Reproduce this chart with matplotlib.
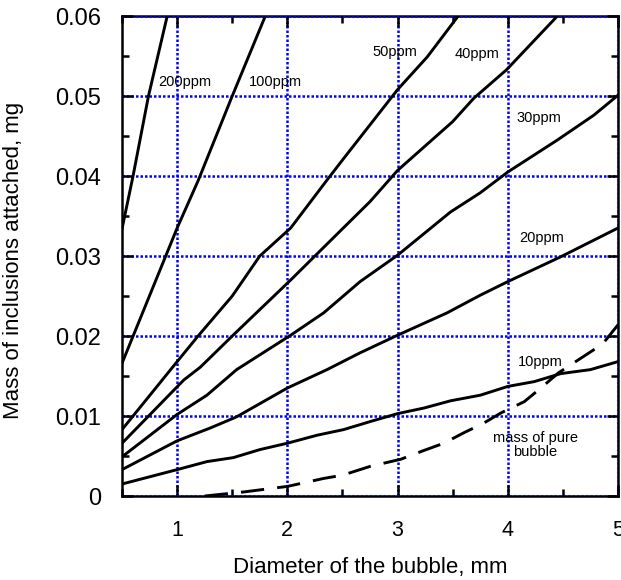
import matplotlib
matplotlib.use('Agg')
import matplotlib.pyplot as plt
from matplotlib.ticker import MultipleLocator

# ------------------------------------------------------------------
# data
# ------------------------------------------------------------------
x_200 = [0.5, 0.6, 0.74, 0.91, 0.95]
y_200 = [0.0334, 0.040, 0.050, 0.060, 0.063]

x_100 = [0.5, 1.0, 1.19, 1.5, 1.8]
y_100 = [0.0166, 0.0335, 0.0394, 0.050, 0.060]

x_50 = [0.5, 1.0, 1.19, 1.5, 1.75, 2.03, 2.36, 2.5, 2.75, 3.0, 3.27, 3.55]
y_50 = [0.0083, 0.0168, 0.020, 0.025, 0.030, 0.0335, 0.0395, 0.042, 0.0464, 0.0508, 0.0549, 0.060]

x_40 = [0.5, 1.06, 1.21, 1.5, 2.03, 2.25, 2.75, 3.0, 3.5, 3.69, 3.99, 4.45]
y_40 = [0.0066, 0.0145, 0.0161, 0.020, 0.027, 0.030, 0.0368, 0.0407, 0.0468, 0.0497, 0.0533, 0.060]

x_30 = [0.5, 1.0, 1.27, 1.54, 2.03, 2.33, 2.66, 3.0, 3.48, 3.75, 4.0, 4.45, 4.78, 5.0]
y_30 = [0.0049, 0.0102, 0.0126, 0.0158, 0.0201, 0.0229, 0.0268, 0.0301, 0.0355, 0.0379, 0.0405, 0.0445, 0.0476, 0.0501]

x_20 = [0.5, 1.0, 1.3, 1.54, 2.0, 2.36, 2.66, 3.0, 3.45, 3.75, 4.0, 4.48, 5.0]
y_20 = [0.0033, 0.0069, 0.0085, 0.0099, 0.0135, 0.0158, 0.0179, 0.0201, 0.0229, 0.0251, 0.0268, 0.0299, 0.0335]

x_10 = [0.5, 1.0, 1.27, 1.51, 1.75, 2.0, 2.27, 2.51, 2.75, 3.0, 3.24, 3.48, 3.75, 4.0, 4.24, 4.48, 4.75, 5.0]
y_10 = [0.0015, 0.0033, 0.0043, 0.0048, 0.0058, 0.0066, 0.0076, 0.0083, 0.0093, 0.0103, 0.0110, 0.0119, 0.0126, 0.0137, 0.0143, 0.0153, 0.0158, 0.0168]

x_pure = [1.25, 1.6, 2.0, 2.33, 2.5, 2.75, 3.03, 3.24, 3.42, 3.6, 3.78, 3.94, 4.15, 4.3, 4.46, 4.66, 4.86, 5.0]
y_pure = [0.0, 0.0005, 0.0012, 0.0022, 0.0026, 0.0037, 0.0046, 0.0057, 0.0066, 0.0079, 0.0091, 0.0104, 0.0118, 0.0135, 0.0154, 0.0172, 0.0190, 0.0214]

labels = ['200ppm', '100ppm', '50ppm', '40ppm', '30ppm', '20ppm', '10ppm']
label_x = [0.83, 1.65, 2.77, 3.52, 4.08, 4.10, 4.09]
label_y = [0.0518, 0.0518, 0.0555, 0.0553, 0.0472, 0.0322, 0.0167]

ytick_vals = [0, 0.01, 0.02, 0.03, 0.04, 0.05, 0.06]
ytick_text = ['0', '0.01', '0.02', '0.03', '0.04', '0.05', '0.06']

# ------------------------------------------------------------------
# plot
# ------------------------------------------------------------------
plt.rcParams['font.family'] = ['Liberation Sans', 'DejaVu Sans']

fig = plt.figure(figsize=(6.21, 5.80), dpi=100)
ax = fig.add_axes([0.1965, 0.1448, 0.7987, 0.8276])

curves = [(x_200, y_200), (x_100, y_100), (x_50, y_50), (x_40, y_40),
          (x_30, y_30), (x_20, y_20), (x_10, y_10)]
for xs, ys in curves:
    ax.plot(xs, ys, color='black', lw=2.1, zorder=3, solid_joinstyle='round')
ax.plot(x_pure, y_pure, color='black', lw=2.1, zorder=3, dashes=(8, 4.5))

for txt, tx, ty in zip(labels, label_x, label_y):
    ax.text(tx, ty, txt, fontsize=10.5, va='center', ha='left', zorder=4)
ax.text(4.25, 0.0064, 'mass of pure\nbubble', fontsize=10.5, ha='center',
        va='center', linespacing=0.95, zorder=4)

ax.set_xlim(0.5, 5)
ax.set_ylim(0, 0.06)
ax.xaxis.set_major_locator(MultipleLocator(1))
ax.xaxis.set_minor_locator(MultipleLocator(0.5))
ax.yaxis.set_minor_locator(MultipleLocator(0.005))
ax.set_yticks(ytick_vals)
ax.set_yticklabels(ytick_text)

ax.tick_params(which='both', direction='in', top=True, right=True, width=1.8)
ax.tick_params(which='major', length=8)
ax.tick_params(which='minor', length=5)
ax.tick_params(axis='y', which='major', labelsize=17, pad=15)
ax.tick_params(axis='x', which='major', labelsize=15.5, pad=17)

ax.grid(True, which='major', color='#0000ff', linestyle=(0, (1, 0.8)), lw=1.8)
ax.set_axisbelow(False)
for sp in ax.spines.values():
    sp.set_linewidth(1.8)
    sp.set_zorder(2)

ax.set_xlabel('Diameter of the bubble, mm', fontsize=16)
ax.set_ylabel('Mass of inclusions attached, mg', fontsize=16)
ax.xaxis.set_label_coords(0.5, -0.127)
ax.yaxis.set_label_coords(-0.197, 0.49)

fig.savefig('out.png', dpi=100)
